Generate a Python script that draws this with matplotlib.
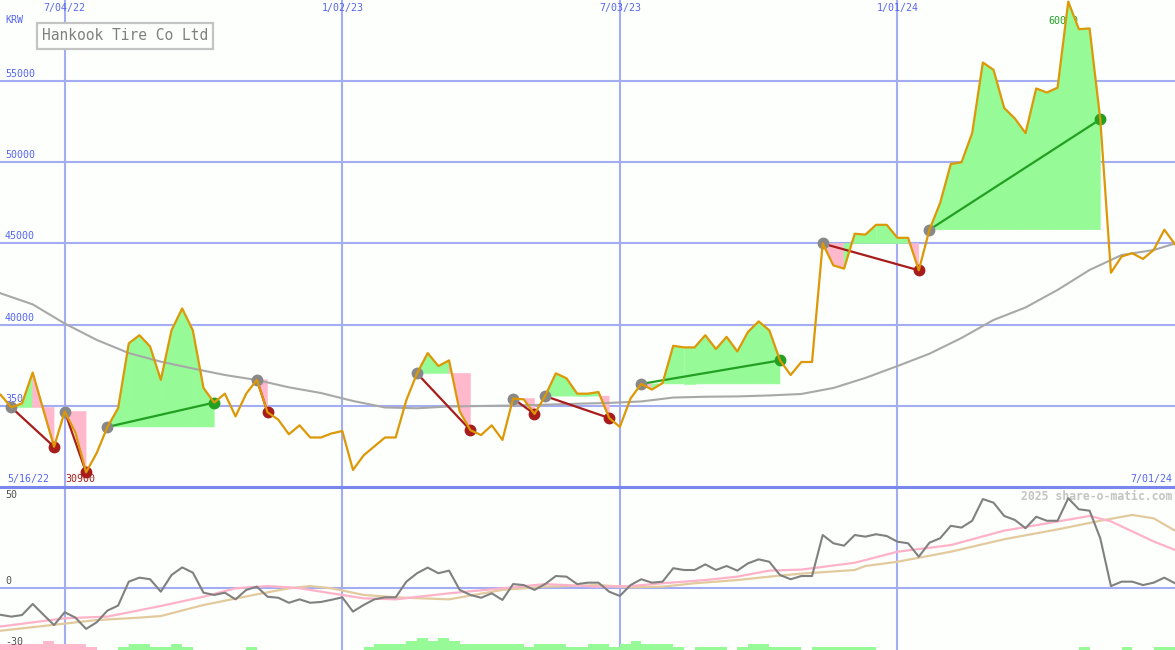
import pandas as pd
import matplotlib
matplotlib.use('Agg')
import matplotlib.pyplot as plt
import matplotlib.dates as mdates

plt.rcParams['font.family'] = ['DejaVu Sans Mono']

# weekly closes (KRW), first week 2022-05-16
start = '2022-05-16'
price = [35900, 35680, 34900, 35150, 37050, 34750, 32480, 34650, 33350, 30900,
         32100, 33700, 34850, 38850, 39350, 38650, 36600, 39650, 41000, 39650,
         36100, 35200, 35750, 34350, 35750, 36600, 34600, 34150, 33250, 33800,
         33050, 33050, 33300, 33450, 31050, 31950, 32500, 33050, 33050, 35350,
         37000, 38250, 37450, 37800, 34650, 33500, 33200, 33800, 32900, 35450,
         35400, 34500, 35600, 37000, 36700, 35750, 35750, 35850, 34250, 33700,
         35450, 36350, 36000, 36400, 38700, 38600, 38600, 39350, 38500, 39250,
         38350, 39550, 40200, 39650, 37800, 36900, 37700, 37700, 45000, 43650,
         43450, 45600, 45550, 46150, 46150, 45350, 45350, 43350, 45850, 47500,
         49900, 50000, 51800, 56150, 55700, 53350, 52700, 51800, 54550, 54300,
         54600, 59900, 58200, 58250, 52650, 43200, 44200, 44400, 44050, 44600,
         45850, 44950]

# long moving average, sampled at these week numbers
ma_weeks = [0, 1, 4, 7, 10, 13, 16, 19, 22, 25, 28, 31, 34, 37, 40, 43, 46, 49, 52,
            55, 58, 61, 64, 67, 70, 73, 76, 79, 82, 85, 88, 91, 94, 97, 100, 103,
            106, 109, 111]
ma_vals = [42300, 41930, 41250, 40070, 39060, 38250, 37720, 37300, 36900, 36590,
           36140, 35790, 35300, 34900, 34850, 34960, 34990, 35020, 35070, 35130,
           35180, 35270, 35510, 35560, 35580, 35640, 35730, 36100, 36720, 37450,
           38210, 39180, 40290, 41060, 42140, 43370, 44290, 44600, 45000]

# trades: entry week, exit week
trade_entry = [2, 7, 11, 25, 40, 49, 52, 61, 78, 88]
trade_exit = [6, 9, 21, 26, 45, 51, 58, 74, 87, 104]

# lower panel
momentum = [-13, -13.5, -14.4, -13.6, -8.1, -13.4, -18.6, -12.2, -14.9, -20.5,
            -17.2, -11.4, -8.9, 3, 5, 4.2, -2, 6.3, 10.1, 7.5,
            -2.5, -3.6, -2.5, -5.8, -1.1, 0.5, -4.5, -5, -7.5, -5.8,
            -7.5, -7.1, -6, -4.8, -11.9, -8.6, -5.8, -4.8, -4.8, 3,
            7.2, 10, 7.2, 8.5, -1.1, -3.6, -5, -2.8, -6.1, 1.8,
            1.3, -1.1, 1.8, 5.8, 5.5, 1.8, 2.5, 2.5, -2, -4.1,
            1.3, 4.2, 2.5, 3, 9.7, 8.8, 8.8, 11.6, 8.8, 10.8,
            8.5, 12.1, 14.1, 12.9, 6.3, 4.2, 5.8, 5.8, 26.2, 22.1,
            20.9, 26.2, 25.4, 26.6, 25.7, 22.9, 22.1, 15.4, 22.4, 24.6,
            30.8, 29.9, 33.3, 44.1, 42.3, 35.7, 33.7, 29.6, 35.3, 33.3,
            33.3, 44.5, 39, 38.3, 24.6, 0.8, 3, 3, 1.3, 2.5,
            5, 2.2]
pink_weeks = [0, 7, 11, 16, 20, 23, 26, 28, 29, 32, 35, 38, 43, 48, 52, 57, 60, 63,
              67, 70, 73, 76, 81, 85, 90, 95, 99, 103, 105, 109, 111]
pink_vals = [-20, -15.2, -14.4, -9.1, -4.5, -0.3, 0.8, 0.2, -0.3, -2.8, -5.3, -5.8,
             -2.8, -0.3, 1.8, 0.5, 0.8, 2.2, 3.8, 5.5, 8.5, 9.0, 12.4, 17.9, 21.2,
             28.4, 32, 35.7, 33, 23, 18.8]
tan_weeks = [0, 10, 14, 16, 20, 25, 28, 30, 32, 35, 38, 43, 48, 52, 57, 60, 63, 66,
             70, 73, 76, 81, 82, 85, 90, 95, 100, 104, 107, 109, 111]
tan_vals = [-22, -16.1, -14.9, -14.1, -8.6, -3.3, -0.3, 0.8, -0.3, -3.6, -4.8, -5.8,
            -1.1, 0.5, 1.3, 0.2, 0.5, 2.2, 3.8, 5.5, 7.0, 8.8, 10.8, 12.9, 17.9,
            24.1, 29, 33.3, 36.2, 34.5, 28.4]
# bar strength per week (negative = pink, positive = green)
bar_levels = [-2, -2, -2, -2, -2, -3, -2, -2, -2, -1,
              0, 0, 1, 2, 2, 1, 1, 2, 1, 0,
              0, 0, 0, 0, 1, 0, 0, 0, 0, 0,
              0, 0, 0, 0, 0, 1, 2, 2, 2, 3,
              4, 3, 4, 3, 2, 2, 2, 2, 2, 2,
              1, 2, 2, 2, 1, 1, 2, 2, 1, 2,
              3, 2, 2, 2, 1, 0, 1, 1, 1, 0,
              1, 2, 2, 1, 1, 1, 0, 1, 1, 1,
              1, 1, 1, 0, 0, 0, 0, 0, 0, 0,
              0, 0, 0, 0, 0, 0, 0, 0, 0, 0,
              0, 0, 1, 0, 0, 0, 1, 0, 0, 1,
              1]

grid_dates = ['2022-07-04', '2023-01-02', '2023-07-03', '2024-01-01']
grid_labels = ['7/04/22', '1/02/23', '7/03/23', '1/01/24']
price_levels = [35000, 40000, 45000, 50000, 55000]
panel_levels = [50, 0, -30]

BG = '#fcfffc'
GRID = '#a4acf2'
BLUE = '#5866f0'
GREEN_FILL = '#96fa96'
PINK_FILL = '#ffb8cc'
ORANGE = '#dc9806'
DKRED = '#a81c1c'
DKGREEN = '#22a022'

weeks = pd.date_range(start, periods=len(price), freq='7D')
x = mdates.date2num(weeks)
gx = mdates.date2num(pd.to_datetime(grid_dates))
x_left = x[0] + 0.937 * 7
x_right = x[-1]


def wx(w):
    return [x[0] + 7 * v for v in w]


fig = plt.figure(figsize=(11.75, 6.5), dpi=100, facecolor=BG)
ax = fig.add_axes([0, 163 / 650, 1, 487 / 650], facecolor=BG)
ax2 = fig.add_axes([0, 0, 1, 163 / 650], facecolor=BG)

# ---- price panel
ax.set_xlim(x_left, x_right)
ax.set_ylim(30000, 60000)
ax.set_yticks(price_levels)
ax.set_xticks(gx)
ax.tick_params(length=0, labelleft=False, labelbottom=False)
ax.grid(color=GRID, lw=1.5)
ax.set_axisbelow(True)
for s in ax.spines.values():
    s.set_visible(False)

for e, s in zip(trade_entry, trade_exit):
    E = price[e]
    for i in range(e, s):
        c = GREEN_FILL if price[i + 1] >= E else PINK_FILL
        ax.fill([x[i], x[i], x[i + 1], x[i + 1]], [E, price[i], price[i + 1], E],
                color=c, lw=0.4, zorder=2)

ax.plot(wx(ma_weeks), ma_vals, color='#a8a8a8', lw=1.5, zorder=3)

for e, s in zip(trade_entry, trade_exit):
    win = price[s] > price[e]
    ax.plot([x[e], x[s]], [price[e], price[s]], color=DKGREEN if win else DKRED,
            lw=1.6, zorder=4)
    ax.plot(x[e], price[e], 'o', color='#888888', ms=7.5, zorder=5)
    ax.plot(x[s], price[s], 'o', color=DKGREEN if win else DKRED, ms=7.5, zorder=5)

ax.plot(x, price, color=ORANGE, lw=1.6, zorder=6)

for v in price_levels:
    ax.annotate(str(v), xy=(0, v), xycoords=('axes fraction', 'data'),
                xytext=(5, 2), textcoords='offset pixels', va='bottom', ha='left',
                color=BLUE, fontsize=7.2, zorder=1)
for d, lab in zip(gx, grid_labels):
    ax.text(d, 1 - 8 / 487, lab, transform=ax.get_xaxis_transform(), ha='center',
            va='center', color=BLUE, fontsize=7.2)
ax.text(5 / 1175, 1 - 20 / 487, 'KRW', transform=ax.transAxes, ha='left',
        va='center', color=BLUE, fontsize=7.2)
ax.text(7 / 1175, 8 / 487, weeks[0].strftime('%-m/%d/%y'), transform=ax.transAxes,
        ha='left', va='center', color=BLUE, fontsize=7.2)
ax.text(1172 / 1175, 8 / 487, weeks[-1].strftime('%-m/%d/%y'), transform=ax.transAxes,
        ha='right', va='center', color=BLUE, fontsize=7.2)

low_i = price.index(min(price))
high_i = price.index(max(price))
ax.annotate(str(min(price)), xy=(x[low_i], 0), xycoords=('data', 'axes fraction'),
            xytext=(-6, 8), textcoords='offset pixels', ha='center', va='center',
            color=DKRED, fontsize=7.2, zorder=1)
ax.annotate(str(round(max(price), -3)), xy=(x[high_i], 1), xycoords=('data', 'axes fraction'),
            xytext=(-5, -21), textcoords='offset pixels', ha='center', va='center',
            color=DKGREEN, fontsize=7.2, zorder=1)

ax.text(125 / 1175, 1 - 36 / 487, 'Hankook Tire Co Ltd', transform=ax.transAxes,
        ha='center', va='center', color='#808080', fontsize=10.5, zorder=8,
        bbox=dict(boxstyle='square,pad=0.35', fc=BG, ec='#c4c4c4', lw=1.6))

# ---- lower panel
ylo, yhi = -31, 50.1
ax2.set_xlim(x_left, x_right)
ax2.set_ylim(ylo, yhi)
ax2.set_yticks([0])
ax2.set_xticks(gx)
ax2.tick_params(length=0, labelleft=False, labelbottom=False)
ax2.grid(color=GRID, lw=1.5)
ax2.set_axisbelow(True)
for k, s in ax2.spines.items():
    s.set_visible(k == 'top')
ax2.spines['top'].set_color('#7886ee')
ax2.spines['top'].set_linewidth(2.2)
ax2.spines['top'].set_zorder(10)

for i, lv in enumerate(bar_levels):
    if lv == 0:
        continue
    ax2.bar(x[i], abs(lv) * 1.49, width=7, bottom=ylo, align='edge',
            color=GREEN_FILL if lv > 0 else PINK_FILL, lw=0, zorder=2)

ax2.plot(wx(tan_weeks), tan_vals, color='#e2ca9e', lw=1.6, zorder=3)
ax2.plot(wx(pink_weeks), pink_vals, color='#ffb2c8', lw=1.6, zorder=3)
ax2.plot(x, momentum, color='#808080', lw=1.5, zorder=4)

ax2.annotate(str(panel_levels[0]), xy=(0, panel_levels[0]),
             xycoords=('axes fraction', 'data'), xytext=(5, -3),
             textcoords='offset pixels', va='top', ha='left', color='#505050',
             fontsize=7.2)
ax2.annotate(str(panel_levels[1]), xy=(0, panel_levels[1]),
             xycoords=('axes fraction', 'data'), xytext=(5, 2),
             textcoords='offset pixels', va='bottom', ha='left', color='#505050',
             fontsize=7.2)
ax2.annotate(str(panel_levels[2]), xy=(0, panel_levels[2]),
             xycoords=('axes fraction', 'data'), xytext=(5, 1),
             textcoords='offset pixels', va='bottom', ha='left', color='#505050',
             fontsize=7.2, zorder=5)
ax2.text(1172 / 1175, 1 - 9 / 163, '2025 share-o-matic.com', transform=ax2.transAxes,
         ha='right', va='center', color='#c4c4c4', fontsize=8.3, fontweight='bold')

fig.savefig('out.png', dpi=100, facecolor=BG)
